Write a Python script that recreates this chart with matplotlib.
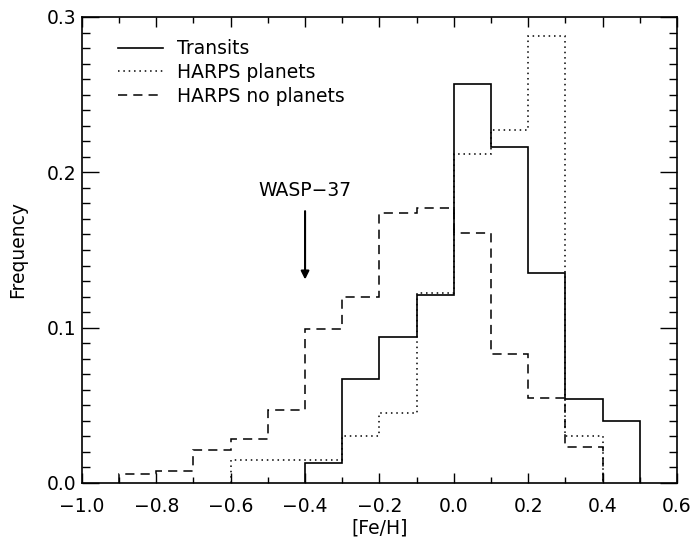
import numpy as np
import matplotlib
matplotlib.use("Agg")
import matplotlib.pyplot as plt
from matplotlib.ticker import MultipleLocator

# bords des bins et fréquences
bords_transits = np.round(np.arange(-0.4, 0.51, 0.1), 2)
freq_transits = [0.013, 0.067, 0.094, 0.121, 0.257, 0.216, 0.135, 0.054, 0.040]

bords_planetes = np.round(np.arange(-0.6, 0.41, 0.1), 2)
freq_planetes = [0.0145, 0.0145, 0.0145, 0.030, 0.045, 0.122, 0.212, 0.227, 0.288, 0.030]

bords_sans = np.round(np.arange(-0.9, 0.41, 0.1), 2)
freq_sans = [0.006, 0.008, 0.021, 0.028, 0.047, 0.099, 0.120, 0.174, 0.177,
             0.161, 0.083, 0.055, 0.023]

labels = ["Transits", "HARPS planets", "HARPS no planets"]
feh_wasp37 = -0.40

taille = 13.5
plt.rcParams['font.family'] = ['DejaVu Sans']
plt.rcParams['font.size'] = taille

fig = plt.figure(figsize=(6.94, 5.46), dpi=100)
ax = fig.add_axes([0.118, 0.1154, 0.8575, 0.8535])

ax.stairs(freq_transits, bords_transits, baseline=0, color='black', lw=1.2,
          label=labels[0])
ax.stairs(freq_planetes, bords_planetes, baseline=0, color='black', lw=1.1,
          linestyle=(0, (1, 2.5)), label=labels[1])
ax.stairs(freq_sans, bords_sans, baseline=0, color='black', lw=1.1,
          linestyle=(0, (6, 4)), label=labels[2])

# flèche WASP-37
ax.annotate("", xy=(feh_wasp37, 0.131), xytext=(feh_wasp37, 0.175),
            arrowprops=dict(arrowstyle='-|>', color='black', lw=1.5,
                            mutation_scale=12, shrinkA=0, shrinkB=0))
ax.text(feh_wasp37, 0.188, "WASP\u221237", ha='center', va='center', fontsize=taille)

ax.set_xlim(-1.0, 0.6)
ax.set_ylim(0.0, 0.3)
ax.xaxis.set_major_locator(MultipleLocator(0.2))
ax.xaxis.set_minor_locator(MultipleLocator(0.1))
ax.yaxis.set_major_locator(MultipleLocator(0.1))
ax.yaxis.set_minor_locator(MultipleLocator(0.01))
ax.xaxis.set_major_formatter(plt.FuncFormatter(lambda v, p: f"{v:.1f}".replace("-", "\u2212")))
ax.yaxis.set_major_formatter(plt.FuncFormatter(lambda v, p: f"{v:.1f}"))
ax.tick_params(which='both', direction='in', top=True, right=True, width=1,
               labelsize=taille)
ax.tick_params(which='major', axis='x', length=7, pad=10)
ax.tick_params(which='minor', axis='x', length=4)
ax.tick_params(which='major', axis='y', length=12, pad=4)
ax.tick_params(which='minor', axis='y', length=6)
for s in ax.spines.values():
    s.set_linewidth(1.2)

ax.set_xlabel("[Fe/H]", fontsize=taille, labelpad=2)
ax.set_ylabel("Frequency", fontsize=taille, labelpad=14)

ax.legend(loc='upper left', bbox_to_anchor=(0.06, 0.952), frameon=False,
          borderpad=0, borderaxespad=0, handlelength=2.4, handletextpad=0.75,
          labelspacing=0.25, fontsize=taille)

fig.savefig("out.png", dpi=100)
